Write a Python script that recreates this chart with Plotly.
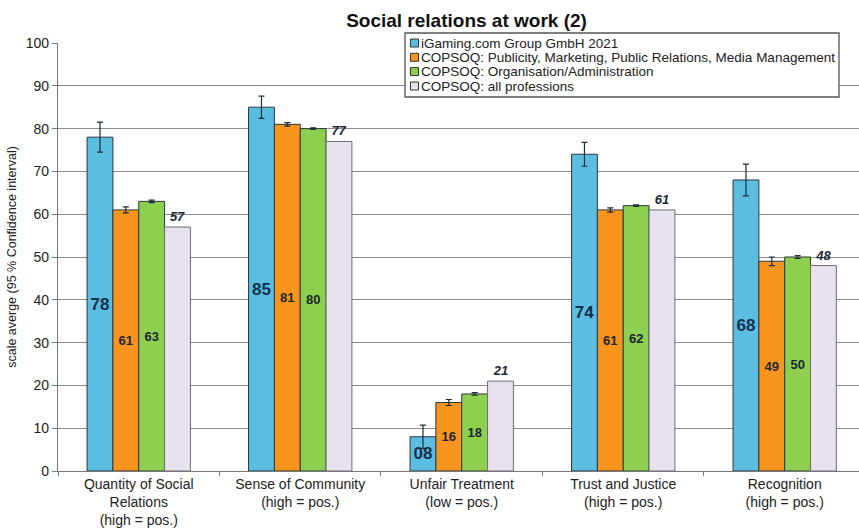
import plotly.graph_objects as go

categories = [
    "Quantity of Social<br>Relations<br>(high = pos.)",
    "Sense of Community<br>(high = pos.)",
    "Unfair Treatment<br>(low = pos.)",
    "Trust and Justice<br>(high = pos.)",
    "Recognition<br>(high = pos.)",
]

series_names = [
    "iGaming.com Group GmbH 2021",
    "COPSOQ: Publicity, Marketing, Public Relations, Media Management",
    "COPSOQ: Organisation/Administration",
    "COPSOQ: all professions",
]

igaming = [78, 85, 8, 74, 68]
igaming_ci = [3.5, 2.6, 2.7, 2.8, 3.7]
publicity = [61, 81, 16, 61, 49]
publicity_ci = [0.7, 0.4, 0.7, 0.5, 1.0]
organisation = [63, 80, 18, 62, 50]
organisation_ci = [0.3, 0.2, 0.3, 0.2, 0.3]
all_professions = [57, 77, 21, 61, 48]

y_ticks = [0, 10, 20, 30, 40, 50, 60, 70, 80, 90, 100]

colors = ["#5bbde0", "#f7941d", "#8dcf4e", "#e7e2ee"]
FONT = "Arial, Liberation Sans, sans-serif"
LABEL_DARK = "#1d2733"

W, H = 859, 531
M_L, M_R, M_T, M_B = 58, 0, 43, 60
PLOT_W = W - M_L - M_R
PLOT_H = H - M_T - M_B


def px_x(px):
    return (px - M_L) / PLOT_W


def px_y(py):
    return (H - M_B - py) / PLOT_H


fig = go.Figure()

fig.add_trace(go.Bar(
    name=series_names[0], x=categories, y=igaming,
    marker=dict(color=colors[0], line=dict(color="#2d3640", width=1)),
    error_y=dict(type="data", array=igaming_ci, color="#1d2a38", thickness=1.2, width=3),
    text=[f"<b>{v:02d}</b>" for v in igaming],
    textposition="inside", insidetextanchor="middle", constraintext="none",
    insidetextfont=dict(family=FONT, size=17, color="#14304a"),
))
fig.add_trace(go.Bar(
    name=series_names[1], x=categories, y=publicity,
    marker=dict(color=colors[1], line=dict(color="#2d3640", width=1)),
    error_y=dict(type="data", array=publicity_ci, color="#1d2a38", thickness=1.2, width=3),
    text=[f"<b>{v}</b>" for v in publicity],
    textposition="inside", insidetextanchor="middle", constraintext="none",
    insidetextfont=dict(family=FONT, size=13, color=LABEL_DARK),
))
fig.add_trace(go.Bar(
    name=series_names[2], x=categories, y=organisation,
    marker=dict(color=colors[2], line=dict(color="#2d3640", width=1)),
    error_y=dict(type="data", array=organisation_ci, color="#1d2a38", thickness=1.2, width=3),
    text=[f"<b>{v}</b>" for v in organisation],
    textposition="inside", insidetextanchor="middle", constraintext="none",
    insidetextfont=dict(family=FONT, size=13, color=LABEL_DARK),
))
fig.add_trace(go.Bar(
    name=series_names[3], x=categories, y=all_professions,
    marker=dict(color=colors[3], line=dict(color="#6e6e6e", width=1)),
    text=[f"<b><i>{v}</i></b>" for v in all_professions],
    textposition="outside", constraintext="none", cliponaxis=False,
    outsidetextfont=dict(family=FONT, size=13, color=LABEL_DARK),
))

# Compact boxed legend drawn with shapes and annotations
shapes = [dict(
    type="rect", xref="paper", yref="paper",
    x0=px_x(405), x1=px_x(839), y0=px_y(97), y1=px_y(33),
    fillcolor="white", line=dict(color="#555555", width=1.3), layer="above",
)]
annotations = []
row_y = [43, 57.3, 71.6, 86]
for name, col, ry in zip(series_names, colors, row_y):
    shapes.append(dict(
        type="rect", xref="paper", yref="paper",
        x0=px_x(410.5), x1=px_x(418.5), y0=px_y(ry + 4), y1=px_y(ry - 4),
        fillcolor=col, line=dict(color="#333333", width=1), layer="above",
    ))
    annotations.append(dict(
        xref="paper", yref="paper", x=px_x(419), y=px_y(ry),
        xanchor="left", yanchor="middle", showarrow=False,
        text=name, font=dict(family=FONT, size=13.5, color="#222222"),
    ))

fig.update_layout(
    width=W, height=H,
    margin=dict(l=M_L, r=M_R, t=M_T, b=M_B),
    paper_bgcolor="white", plot_bgcolor="white",
    font=dict(family=FONT, color="#222222"),
    title=dict(
        text="<b>Social relations at work (2)</b>",
        x=0.51, xref="paper", xanchor="center", y=0.962, yanchor="middle",
        font=dict(family=FONT, size=19, color="#111111"),
    ),
    barmode="group", bargap=0.36, bargroupgap=0,
    showlegend=False,
    shapes=shapes,
    annotations=annotations,
    xaxis=dict(
        range=[-0.5, 4.46],
        showline=True, linecolor="#777777", linewidth=1.2,
        ticks="outside", tickson="boundaries", ticklen=4, tickcolor="#777777",
        tickfont=dict(family=FONT, size=14, color="#222222"),
        showgrid=False,
    ),
    yaxis=dict(
        range=[0, 100], tickvals=y_ticks,
        showline=True, linecolor="#777777", linewidth=1.2,
        ticks="outside", ticklen=5, tickcolor="#777777",
        showgrid=True, gridcolor="#8c8c8c", gridwidth=1.2,
        zeroline=False,
        tickfont=dict(family=FONT, size=14, color="#222222"),
        title=dict(text="scale averge (95 % Confidence interval)",
                   font=dict(family=FONT, size=12.5, color="#222222"), standoff=6),
    ),
)

fig.write_html("out.html")
